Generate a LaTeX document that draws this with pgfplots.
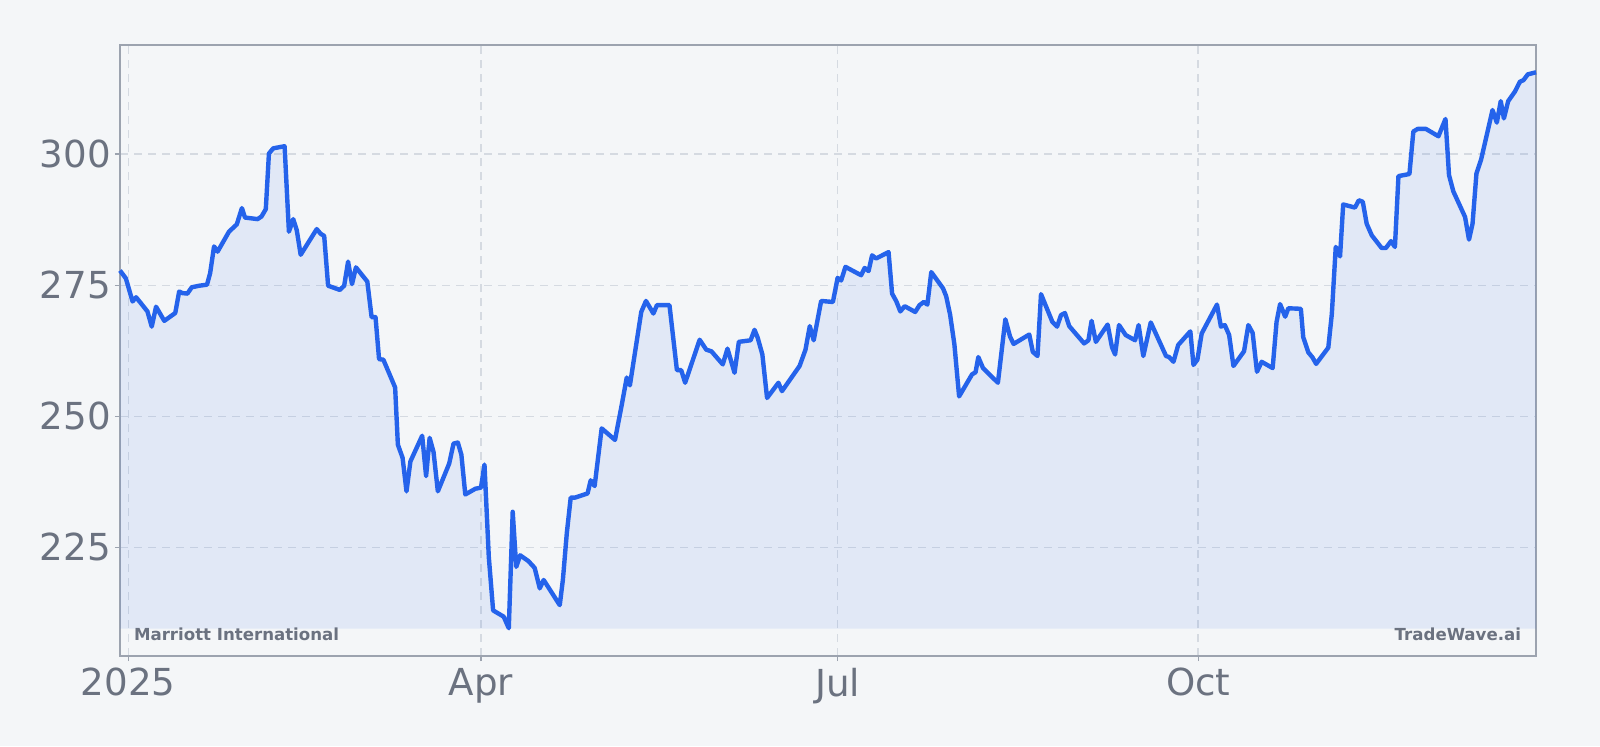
\documentclass[border=0pt]{standalone}
\usepackage{pgfplots}
\pgfplotsset{compat=1.18}
\usepgfplotslibrary{fillbetween}
\usepackage{fontspec}
\setmainfont{DejaVu Sans}

\definecolor{bg}{HTML}{F4F6F8}
\definecolor{price}{HTML}{2563EB}
\definecolor{txt}{HTML}{6B7280}
\definecolor{frame}{HTML}{9CA3AF}
\definecolor{gridc}{HTML}{D5DAE1}

% day of 2025 (0 = 1 Jan), closing price
\pgfplotstableread{
x y
-2.1 277.8
-0.6 276.3
1.1 271.9
2.0 272.7
3.2 271.6
4.9 270.0
6.0 267.1
7.1 270.9
9.2 268.2
12.0 269.7
13.0 273.8
13.8 273.5
15.1 273.4
16.2 274.6
18.1 274.9
20.1 275.1
20.9 277.3
21.9 282.4
22.8 281.4
25.7 285.2
27.7 286.6
29.0 289.7
29.8 287.9
33.0 287.6
34.0 288.1
35.1 289.5
35.9 300.1
37.0 301.1
39.9 301.5
41.0 285.2
42.1 287.6
43.0 285.5
44.0 280.8
48.1 285.7
49.1 284.8
50.0 284.4
51.0 274.9
54.0 274.1
55.1 274.9
56.1 279.5
57.1 275.2
58.1 278.4
61.0 275.7
62.1 268.9
63.1 268.9
64.0 260.9
65.1 260.8
68.1 255.5
68.8 244.6
70.0 242.1
71.0 235.7
72.0 241.4
75.0 246.3
76.0 238.6
76.9 245.9
77.9 243.2
79.0 235.7
81.9 241.0
83.0 244.8
84.1 245.0
85.0 242.7
86.0 235.1
88.6 236.2
90.0 236.4
90.9 240.8
92.0 223.2
93.1 213.0
95.8 211.8
97.1 209.6
98.1 231.8
99.0 221.3
100.0 223.5
102.1 222.4
103.7 221.1
105.0 217.2
106.0 218.8
110.1 214.0
110.9 218.8
111.9 227.7
112.9 234.5
114.0 234.5
117.2 235.3
118.0 237.8
119.0 236.7
120.8 247.7
124.2 245.5
125.9 252.1
127.2 257.4
128.0 255.9
130.9 269.9
132.1 272.0
134.0 269.6
134.9 271.2
138.1 271.2
140.0 258.8
141.1 258.8
142.1 256.4
145.8 264.6
147.5 262.7
148.8 262.4
151.7 259.9
152.9 262.9
154.7 258.3
155.8 264.2
158.8 264.5
159.8 266.5
160.6 265.0
161.8 261.8
163.0 253.5
165.9 256.4
166.8 254.8
171.3 259.6
172.8 262.7
173.9 267.2
174.9 264.5
176.8 272.0
179.8 271.8
181.0 276.4
181.9 275.9
183.0 278.5
187.0 276.9
187.9 278.3
188.9 277.7
189.8 280.7
190.8 280.1
194.0 281.3
194.9 273.4
196.0 271.9
197.0 270.0
198.1 271.0
200.8 269.9
201.9 271.2
203.0 271.8
203.9 271.3
204.9 277.5
207.9 274.4
208.7 272.9
209.7 269.4
210.8 263.7
212.0 253.8
215.3 258.0
216.2 258.4
216.9 261.3
218.1 259.2
221.9 256.4
223.8 268.5
225.0 265.2
225.9 263.8
229.9 265.6
230.8 262.3
232.0 261.5
232.9 273.3
235.8 268.0
237.0 267.1
238.0 269.3
239.0 269.7
240.1 267.2
243.9 263.9
245.0 264.5
245.8 268.2
246.9 264.2
249.9 267.5
251.0 263.2
251.8 261.8
252.8 267.4
254.5 265.5
256.9 264.5
257.8 267.4
259.0 261.5
260.9 267.9
264.8 261.5
265.6 261.3
266.7 260.4
267.9 263.6
271.0 266.2
271.8 259.8
272.8 260.8
273.9 265.8
277.8 271.3
278.8 267.1
279.8 267.4
280.9 265.5
282.0 259.6
284.7 262.4
285.8 267.4
286.9 265.9
288.0 258.5
289.2 260.4
292.0 259.2
293.0 268.0
293.9 271.4
295.2 269.0
296.0 270.6
299.2 270.5
299.8 265.1
301.1 262.2
302.2 261.2
303.1 260.0
306.2 263.1
307.1 269.5
308.1 282.3
309.2 280.5
310.0 290.4
313.0 289.8
314.0 291.2
315.0 290.9
316.0 286.7
317.3 284.5
319.8 282.1
320.9 282.1
322.2 283.4
323.2 282.3
324.1 295.8
326.9 296.2
327.9 304.3
329.0 304.8
331.1 304.8
334.3 303.4
336.1 306.7
337.0 296.0
338.1 292.9
341.1 288.0
342.1 283.7
343.0 286.7
344.0 296.3
345.2 299.0
348.1 308.4
349.2 306.0
350.2 310.1
351.0 306.8
352.1 310.1
353.8 311.9
355.1 313.8
356.0 314.1
357.1 315.2
359.2 315.6
}\prices

\begin{document}
\begin{tikzpicture}
  \begin{axis}[
    at={(0,0)}, anchor=south west,
    scale only axis, width=708pt, height=305.5pt,
    xmin=-2.1, xmax=359.2, ymin=204.3, ymax=320.8,
    clip=false,
    axis line style={frame, line width=1pt},
    xtick={0,90,181,273}, xticklabels={2025,Apr,Jul,Oct},
    ytick={225,250,275,300},
    xtick pos=left, ytick pos=left,
    tick align=outside, major tick length=2.5pt,
    tick style={frame, line width=0.6pt},
    grid=major,
    major grid style={gridc, dash pattern=on 4pt off 3pt, line width=0.7pt},
    ticklabel style={font=\fontsize{18.6}{22}\selectfont, text=txt},
    yticklabel style={xshift=1.5pt},
    /pgf/number format/assume math mode=true,
    /pgf/number format/1000 sep={},
  ]
    % page background (800pt x 373pt) kept under the grid
    \begin{pgfonlayer}{axis background}
      \fill[bg] ([xshift=-60pt,yshift=-45pt]rel axis cs:0,0)
        rectangle ([xshift=32pt,yshift=22.5pt]rel axis cs:1,1);
    \end{pgfonlayer}
    \addplot[draw=none, name path=base, forget plot] coordinates {(-2.1,209.5) (359.2,209.5)};
    \addplot[price, line width=2.2pt, line join=round, name path=close] table {\prices};
    \addplot[fill=price, fill opacity=0.09, draw=none] fill between[of=close and base];
    \node[anchor=base west, xshift=3.5pt, yshift=8pt, text=txt,
          font=\bfseries\fontsize{8.3}{10}\selectfont] at (rel axis cs:0,0) {Marriott International};
    \node[anchor=base east, xshift=-4pt, yshift=8pt, text=txt,
          font=\bfseries\fontsize{8.3}{10}\selectfont] at (rel axis cs:1,0) {TradeWave.ai};
  \end{axis}
\end{tikzpicture}
\end{document}
